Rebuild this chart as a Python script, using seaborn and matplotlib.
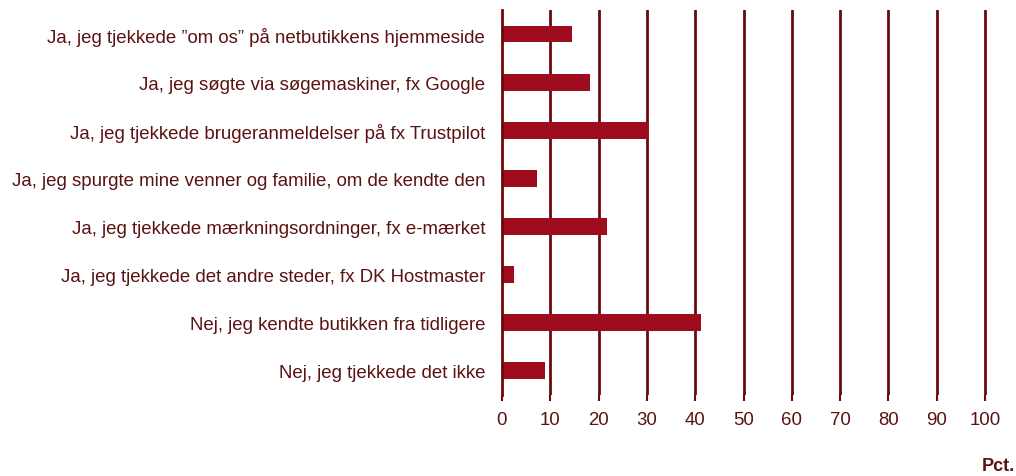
#!/usr/bin/env python3

import matplotlib

matplotlib.use("Agg")
import matplotlib.pylab as plt
import pandas as pd
import seaborn as sns

# Answers (Danish survey) and share of respondents in percent
answers = [
    "Ja, jeg tjekkede \u201dom os\u201d på netbutikkens hjemmeside",
    "Ja, jeg søgte via søgemaskiner, fx Google",
    "Ja, jeg tjekkede brugeranmeldelser på fx Trustpilot",
    "Ja, jeg spurgte mine venner og familie, om de kendte den",
    "Ja, jeg tjekkede mærkningsordninger, fx e-mærket",
    "Ja, jeg tjekkede det andre steder, fx DK Hostmaster",
    "Nej, jeg kendte butikken fra tidligere",
    "Nej, jeg tjekkede det ikke",
]
pct = [14.6, 18.2, 30.2, 7.3, 21.8, 2.6, 41.2, 9.0]
xticks = list(range(0, 101, 10))

bar_color = "#9e0c1e"
line_color = "#6b0a0a"
text_color = "#5a1212"

sns.set_theme(style="white")
plt.rcParams["font.family"] = ["Liberation Sans", "DejaVu Sans"]

df = pd.DataFrame({"answer": answers, "pct": pct})

fig = plt.figure(figsize=(10.16, 4.77), dpi=100)
ax = fig.add_axes([0.494, 0.170, 0.4775, 0.807])

sns.barplot(
    data=df,
    x="pct",
    y="answer",
    order=answers,
    color=bar_color,
    width=0.35,
    saturation=1,
    edgecolor="none",
    ax=ax,
)

ax.set_xlim(0, 100.4)
ax.set_ylim(len(answers) - 0.5, -0.5)
ax.set_xticks(xticks)
ax.set_xticklabels([str(t) for t in xticks])
for t in xticks[1:]:
    ax.axvline(t, color=line_color, linewidth=2, zorder=0)

ax.set_xlabel("")
ax.set_ylabel("")
for side in ["top", "right", "bottom"]:
    ax.spines[side].set_visible(False)
ax.spines["left"].set_color(line_color)
ax.spines["left"].set_linewidth(2)

ax.tick_params(axis="x", bottom=True, length=4, width=1.5, color=line_color,
               labelsize=13.4, labelcolor=text_color, pad=7.5)
ax.tick_params(axis="y", left=False, labelsize=13.4, labelcolor=text_color, pad=6)

fig.text(0.999, 0.005, "Pct.", ha="right", va="bottom", fontsize=13,
         fontweight="bold", color=text_color)

plt.savefig("out.png", dpi=100)
